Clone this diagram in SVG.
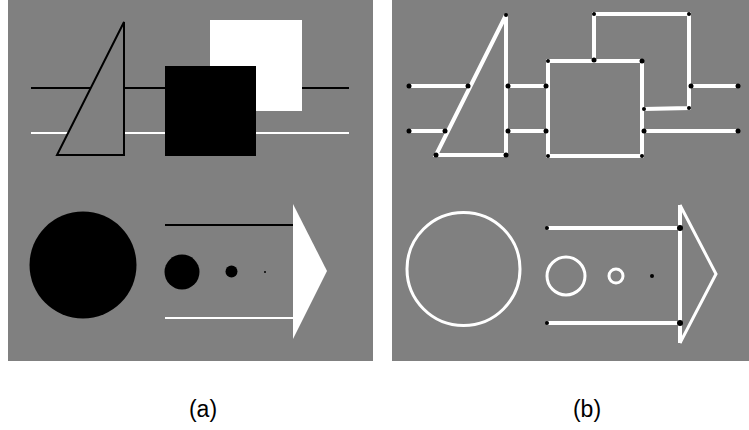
<svg xmlns="http://www.w3.org/2000/svg" width="749" height="430" viewBox="0 0 749 430">
<style>
.bg{fill:#808080}
.bl{stroke:#000;stroke-width:2;fill:none}
.wl{stroke:#fff;stroke-width:2;fill:none}
.ws{stroke:#fff;stroke-width:4;fill:none;stroke-linecap:butt;stroke-linejoin:miter}
.dot{fill:#000}
.lbl{font-family:"Liberation Sans",Arial,sans-serif;font-size:23px;fill:#000;text-anchor:middle}
</style>
<rect width="749" height="430" fill="#fff"/>
<g id="panel-a">
<rect class="bg" x="8" y="0" width="365" height="361"/>
<line class="bl" x1="31" y1="88" x2="349" y2="88"/>
<line class="wl" x1="31" y1="133" x2="349" y2="133"/>
<polygon points="57,155 124,22 124,155" fill="#808080" stroke="#000" stroke-width="2"/>
<rect x="210" y="20" width="92" height="91" fill="#fff"/>
<rect x="165" y="66" width="91" height="90" fill="#000"/>
<circle cx="83" cy="265" r="53.5" fill="#000"/>
<circle cx="182" cy="272" r="17.5" fill="#000"/>
<circle cx="231.5" cy="271.5" r="6" fill="#000"/>
<circle cx="265" cy="272" r="1" fill="#000"/>
<line class="bl" x1="165" y1="225" x2="293" y2="225"/>
<line class="wl" x1="165" y1="318" x2="293" y2="318"/>
<polygon points="293,204 327,271 293,339" fill="#fff"/>
</g>
<g id="panel-b">
<rect class="bg" x="392" y="0" width="357" height="361"/>
<g id="connectors">
<line class="ws" x1="409" y1="86" x2="468" y2="86"/>
<line class="ws" x1="508" y1="86" x2="546" y2="86"/>
<line class="ws" x1="691" y1="86" x2="738" y2="86"/>
<line class="ws" x1="409" y1="131" x2="445" y2="131"/>
<line class="ws" x1="508" y1="131" x2="546" y2="131"/>
<line class="ws" x1="644" y1="131" x2="738" y2="131"/>
<polygon class="ws" points="436,155 506,15 506,155"/>
<rect class="ws" x="548" y="61" width="94" height="95"/>
<polyline class="ws" points="594,60 594,14 689,14 689,108 644,109"/>
<circle cx="463.5" cy="269" r="56.5" fill="none" stroke="#fff" stroke-width="3"/>
<circle cx="566" cy="276" r="19" fill="none" stroke="#fff" stroke-width="3"/>
<circle cx="616" cy="276" r="7" fill="none" stroke="#fff" stroke-width="3"/>
<line class="ws" x1="547" y1="228" x2="679" y2="228"/>
<line class="ws" x1="547" y1="323" x2="679" y2="323"/>
<line class="ws" x1="680" y1="205" x2="680" y2="343"/>
<polyline points="680,205 716,274 680,343" fill="none" stroke="#fff" stroke-width="3"/>
</g>
<g id="dots" class="dot">
<circle cx="409" cy="86" r="2.5"/><circle cx="468" cy="86" r="2.5"/><circle cx="508" cy="86" r="2.5"/><circle cx="546" cy="86" r="2.5"/><circle cx="691" cy="86" r="2.5"/><circle cx="738" cy="86" r="2.5"/>
<circle cx="409" cy="131" r="2.5"/><circle cx="445" cy="131" r="2.5"/><circle cx="508" cy="131" r="2.5"/><circle cx="546" cy="131" r="2.5"/><circle cx="644" cy="131" r="2.5"/><circle cx="738" cy="131" r="2.5"/>
<circle cx="436" cy="155" r="2.5"/><circle cx="506" cy="15" r="2"/><circle cx="506" cy="155" r="2.5"/>
<circle cx="548" cy="61" r="2"/><circle cx="642" cy="61" r="2.5"/><circle cx="548" cy="156" r="2"/><circle cx="642" cy="156" r="2"/>
<circle cx="594" cy="60" r="2.5"/><circle cx="594" cy="14" r="2"/><circle cx="689" cy="14" r="2"/><circle cx="689" cy="108" r="2"/><circle cx="644" cy="109" r="2"/>
<circle cx="652" cy="276" r="2"/>
<circle cx="547" cy="228" r="2"/><circle cx="680" cy="228" r="3"/><circle cx="547" cy="323" r="2"/><circle cx="680" cy="323" r="3"/>
</g>
</g>
<text class="lbl" x="203" y="417">(a)</text>
<text class="lbl" x="587" y="417">(b)</text>
</svg>
